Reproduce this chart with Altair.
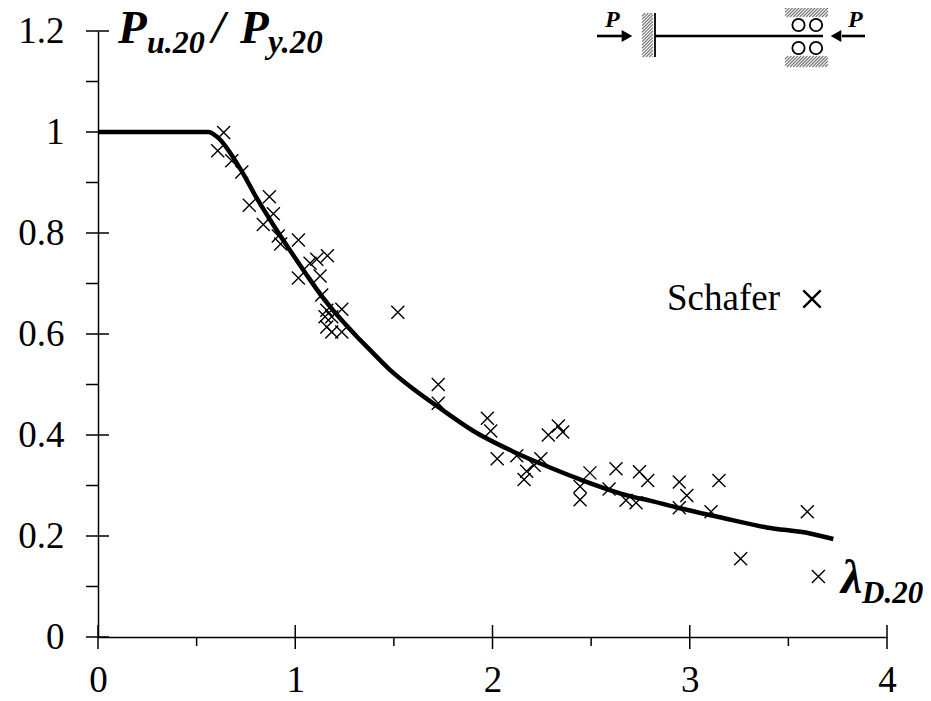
import altair as alt
import pandas as pd

W, H = 789, 606
OX, OY = 98, 31          # page position of the plot origin
XMAX, YMAX = 4.0, 1.2

# Test results (Schafer)
pts_x = [0.637,0.607,0.678,0.729,0.869,0.767,0.889,0.838,0.914,0.926,1.016,1.163,1.109,1.075,1.126,1.016,
         1.134,1.236,1.160,1.151,1.185,1.160,1.185,1.236,1.520,1.725,1.725,1.974,1.991,2.024,2.123,2.173,
         2.160,2.245,2.211,2.283,2.334,2.356,2.494,2.444,2.444,2.626,2.591,2.677,2.728,2.745,2.787,2.947,
         2.985,2.947,3.108,3.148,3.596,3.258,3.652]
pts_y = [0.999,0.963,0.943,0.921,0.872,0.855,0.838,0.817,0.794,0.778,0.786,0.755,0.748,0.740,0.715,0.711,
         0.677,0.649,0.647,0.634,0.634,0.614,0.604,0.604,0.643,0.500,0.463,0.433,0.408,0.353,0.359,0.328,
         0.312,0.353,0.340,0.400,0.418,0.406,0.325,0.298,0.272,0.333,0.293,0.271,0.266,0.327,0.310,0.307,
         0.280,0.256,0.248,0.310,0.248,0.155,0.120]
# Design curve
curve_x = [0,0.559,0.602,0.720,0.805,0.889,0.973,1.058,1.142,1.227,1.312,1.370,1.480,1.599,1.734,1.903,
           2.106,2.258,2.444,2.697,2.798,2.951,3.153,3.390,3.610,3.728]
curve_y = [1,1,0.991,0.928,0.869,0.816,0.766,0.717,0.671,0.631,0.595,0.572,0.529,0.491,0.453,0.408,
           0.367,0.341,0.312,0.279,0.270,0.255,0.237,0.217,0.205,0.194]
x_ticks = [0,1,2,3,4]
x_minor = [0.5,1.5,2.5,3.5]
y_ticks = [0,0.2,0.4,0.6,0.8,1,1.2]
y_minor = [0.1,0.3,0.5,0.7,0.9,1.1]

SERIF = "Liberation Serif"
x_scale = alt.Scale(domain=[0, XMAX], nice=False, zero=False)
y_scale = alt.Scale(domain=[0, YMAX], nice=False, zero=False)
def dx(p): return (p - OX) / W * XMAX
def dy(p): return (OY + H - p) / H * YMAX
x_axis = alt.Axis(values=x_ticks, format="~g", ticks=False, grid=False, domainColor="black", domainWidth=1.5,
                  labelFont=SERIF, labelFontSize=37, labelColor="black", labelPadding=25, labelFlush=False,
                  labelOverlap=False, labelBound=False, title=None)
y_axis = alt.Axis(values=y_ticks, format="~g", ticks=False, grid=False, domainColor="black", domainWidth=1.5,
                  labelFont=SERIF, labelFontSize=37, labelColor="black", labelPadding=34, labelFlush=False,
                  labelOverlap=False, labelBound=False, title=None)
X = lambda f="x": alt.X(f"{f}:Q", scale=x_scale, axis=x_axis)
Y = lambda f="y": alt.Y(f"{f}:Q", scale=y_scale, axis=y_axis)
XS = "M-1,-1L1,1M-1,1L1,-1"

def rules(segs, color="black", w=1.5):
    df = pd.DataFrame([dict(x=dx(a), x2=dx(c), y=dy(b), y2=dy(d)) for a, b, c, d in segs])
    return alt.Chart(df).mark_rule(color=color, strokeWidth=w).encode(
        x=X(), x2="x2:Q", y=Y(), y2="y2:Q")

def label(s, px, py, size, style="italic", weight="bold", align="left"):
    df = pd.DataFrame({"x": [dx(px)], "y": [dy(py)], "t": [s]})
    return alt.Chart(df).mark_text(font=SERIF, fontSize=size, fontStyle=style, fontWeight=weight,
                                   align=align, baseline="alphabetic", color="black").encode(
        x=X(), y=Y(), text="t:N")

# Tick marks: majors cross the axis, minors point outward
seg = []
for v in x_ticks:
    p = OX + v / XMAX * W
    seg.append((p, OY + H - 12, p, OY + H + 12))
for v in x_minor:
    p = OX + v / XMAX * W
    seg.append((p, OY + H, p, OY + H + 9))
for v in y_ticks:
    p = OY + H - v / YMAX * H
    seg.append((OX - 12, p, OX + 11, p))
for v in y_minor:
    p = OY + H - v / YMAX * H
    seg.append((OX - 12, p, OX, p))
ticks = rules(seg)

curve = alt.Chart(pd.DataFrame({"x": curve_x, "y": curve_y})).mark_line(
    color="black", strokeWidth=4.5, strokeJoin="round", interpolate="monotone").encode(x=X(), y=Y())
points = alt.Chart(pd.DataFrame({"x": pts_x, "y": pts_y})).mark_point(
    shape=XS, size=169, filled=False, color="black", strokeWidth=1.4, opacity=1).encode(x=X(), y=Y())
key = alt.Chart(pd.DataFrame({"x": [dx(812)], "y": [dy(299)]})).mark_point(
    shape=XS, size=300, filled=False, color="black", strokeWidth=2.4, opacity=1).encode(x=X(), y=Y())

# Support diagram
def hatch(x0, y0, x1, y1, step=3.2):
    out, c = [], x0 - (y1 - y0)
    while c < x1:
        a = max(x0, c); b = min(x1, c + (y1 - y0))
        out.append((a, y1 - (a - c), b, y1 - (b - c)))
        c += step
    return out
hatches = rules(hatch(642, 13, 653, 57) + hatch(785, 6, 828, 17) + hatch(785, 56, 828, 67), color="#7f7f7f", w=1.3)
beam = rules([(655, 36, 823, 36), (597, 36, 622, 36), (842, 36, 865, 36)], w=2.6)
wall = rules([(655, 13, 655, 57)], w=1.8)
def tri(shape, px):
    return alt.Chart(pd.DataFrame({"x": [dx(px)], "y": [dy(36)]})).mark_point(
        shape=shape, size=150, filled=True, color="black", opacity=1).encode(x=X(), y=Y())
rollers = alt.Chart(pd.DataFrame({"x": [dx(798.5), dx(816), dx(798.5), dx(816)],
                                  "y": [dy(25), dy(25), dy(48), dy(48)]})).mark_point(
    shape="circle", size=150, filled=False, color="black", strokeWidth=1.8, opacity=1).encode(x=X(), y=Y())

chart = alt.layer(
    ticks, points, curve, key, hatches, beam, wall,
    tri("triangle-right", 627), tri("triangle-left", 836), rollers,
    label("P", 605, 27, 24), label("P", 848, 27, 24),
    label("Schafer", 667, 310, 37, style="normal", weight="normal"),
    label("P", 118, 43, 47), label("u.20", 147, 53, 32), label("/", 212, 43, 47),
    label("P", 240, 43, 47), label("y.20", 268, 53, 33),
    label("λ", 841, 593, 48), label("D.20", 862, 603, 31),
).properties(
    width=W, height=H, background="white",
    autosize=alt.AutoSizeParams(type="none"),
    padding={"left": 90, "top": 23, "right": 36, "bottom": 56},
).configure_view(stroke=None)

chart.save("out.html", embed_options={"renderer": "svg", "actions": False})
